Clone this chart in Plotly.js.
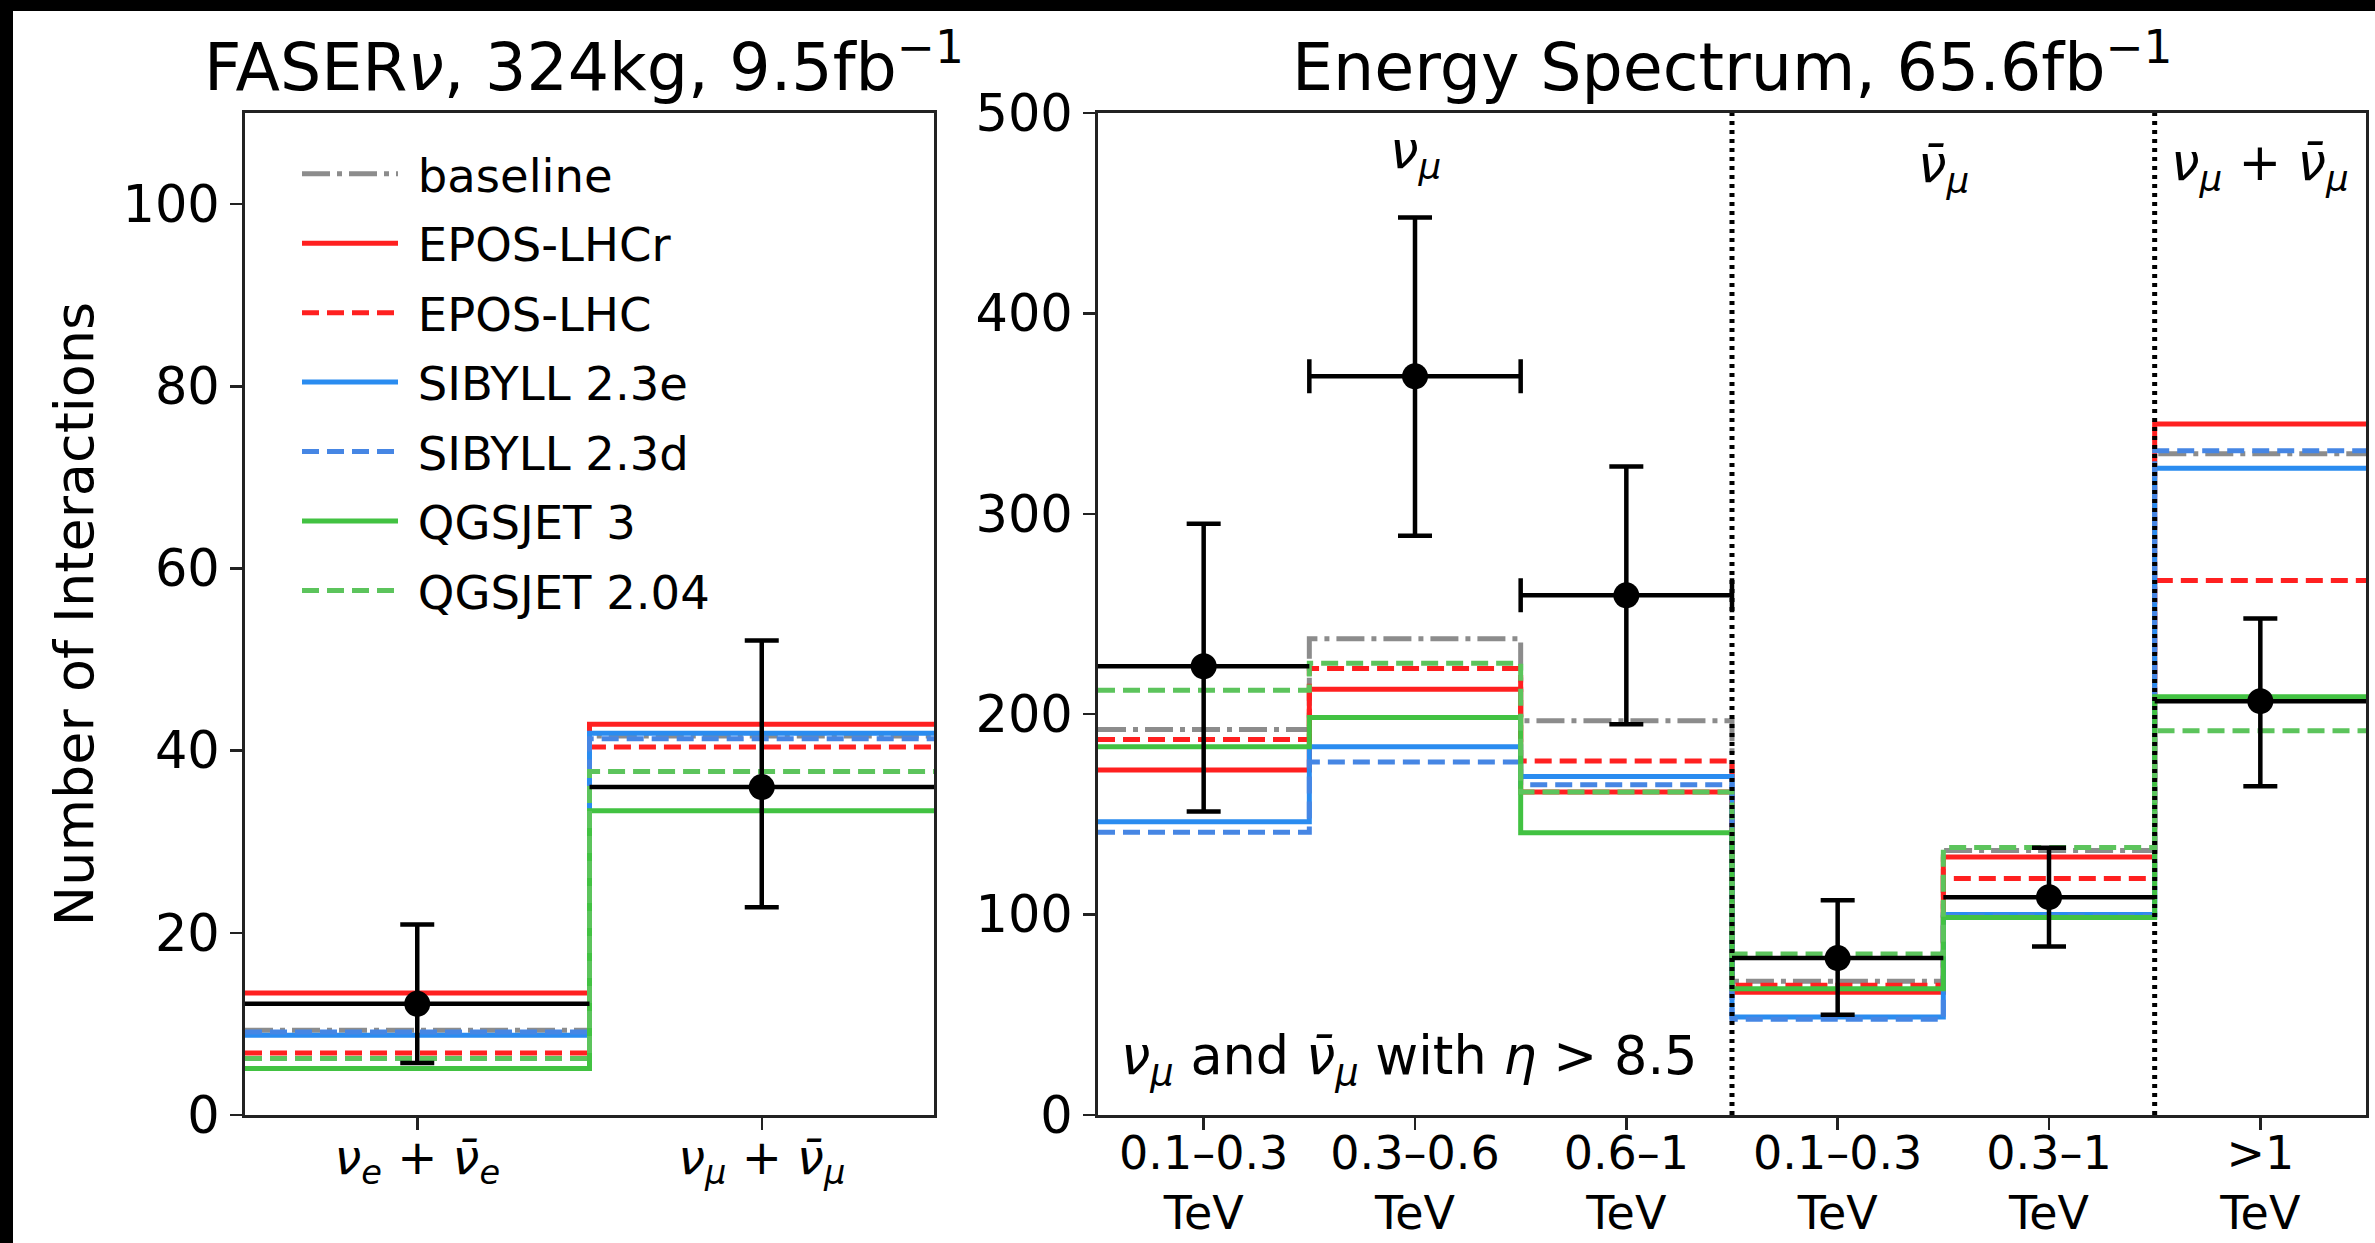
<!DOCTYPE html>
<html><head><meta charset="utf-8">
<script src="https://cdn.plot.ly/plotly-3.0.1.min.js"></script>
<style>html,body{margin:0;padding:0;background:#fff;} #chart{width:2375px;height:1243px;}</style>
</head><body><div id="chart"></div>
<script>
// ---------- data ----------
const leftCategories = ['<i>ν<sub>e</sub></i> + <i>ν̄<sub>e</sub></i>', '<i>ν<sub>μ</sub></i> + <i>ν̄<sub>μ</sub></i>'];
const rightCategories = ['0.1–0.3<br>TeV', '0.3–0.6<br>TeV', '0.6–1<br>TeV', '0.1–0.3<br>TeV', '0.3–1<br>TeV', '>1<br>TeV'];
const rightGroupLabels = ['<i>ν<sub>μ</sub></i>', '<i>ν̄<sub>μ</sub></i>', '<i>ν<sub>μ</sub></i> + <i>ν̄<sub>μ</sub></i>'];
const rightGroupDividers = [2.5, 4.5];

const modelNames = ['baseline', 'EPOS-LHCr', 'EPOS-LHC', 'SIBYLL 2.3e', 'SIBYLL 2.3d', 'QGSJET 3', 'QGSJET 2.04'];

// left panel (FASERnu, 324kg, 9.5 fb^-1)
const leftBaseline   = [9.3, 41.6];
const leftEposLHCr   = [13.4, 42.9];
const leftEposLHC    = [6.8, 40.4];
const leftSibyll23e  = [8.75, 41.9];
const leftSibyll23d  = [9.1, 41.3];
const leftQgsjet3    = [5.1, 33.4];
const leftQgsjet204  = [6.2, 37.7];
const leftData       = [12.2, 36.0];
const leftErrUp      = [8.7, 16.1];
const leftErrDown    = [6.5, 13.2];

// right panel (energy spectrum, 65.6 fb^-1)
const rightBaseline  = [192.4, 237.6, 196.7, 66.7, 132.0, 330.0];
const rightEposLHCr  = [172.2, 212.4, 161.2, 61.3, 128.7, 344.8];
const rightEposLHC   = [187.4, 222.8, 176.7, 64.8, 118.0, 266.7];
const rightSibyll23e = [146.3, 183.7, 168.9, 48.9, 100.0, 322.7];
const rightSibyll23d = [141.1, 176.1, 164.8, 47.8, 99.3, 331.5];
const rightQgsjet3   = [183.7, 198.3, 140.9, 63.0, 98.5, 208.7];
const rightQgsjet204 = [212.0, 225.4, 161.2, 80.4, 133.5, 191.7];
const rightData      = [223.9, 368.6, 259.3, 78.3, 108.7, 206.5];
const rightErrUp     = [71.1, 79.3, 64.3, 28.9, 24.6, 41.3];
const rightErrDown   = [72.4, 79.6, 64.3, 28.3, 24.6, 42.4];
const rightBinsWithXCaps = [1, 2];

// ---------- styles ----------
const FONT = 'DejaVu Sans';
const LW = 5;
const DASH = '17px,8px';
const DASHDOT = '28px,7px,5px,7px';
const modelStyles = [
  {color: '#8c8c8c', dash: DASHDOT},
  {color: '#ff2020', dash: 'solid'},
  {color: '#ff2020', dash: DASH},
  {color: '#2a8cf0', dash: 'solid'},
  {color: '#4686e4', dash: DASH},
  {color: '#42c242', dash: 'solid'},
  {color: '#5cc45c', dash: DASH}
];
const leftModels = [leftBaseline, leftEposLHCr, leftEposLHC, leftSibyll23e, leftSibyll23d, leftQgsjet3, leftQgsjet204];
const rightModels = [rightBaseline, rightEposLHCr, rightEposLHC, rightSibyll23e, rightSibyll23d, rightQgsjet3, rightQgsjet204];

function stepTrace(vals, i, xa, ya, legend) {
  const x = [], y = [];
  vals.forEach((v, k) => { x.push(k - 0.5); y.push(v); });
  x.push(vals.length - 0.5); y.push(vals[vals.length - 1]);
  return {
    type: 'scatter', mode: 'lines', x: x, y: y, xaxis: xa, yaxis: ya,
    line: {shape: 'hv', width: LW, color: modelStyles[i].color, dash: modelStyles[i].dash},
    name: '\u00a0' + modelNames[i], legendgroup: modelNames[i], showlegend: legend, hoverinfo: 'skip'
  };
}

const traces = [];
leftModels.forEach((m, i) => traces.push(stepTrace(m, i, 'x', 'y', true)));
rightModels.forEach((m, i) => traces.push(stepTrace(m, i, 'x2', 'y2', false)));

function dataTrace(idx, vals, up, down, xa, ya, cap) {
  return {
    type: 'scatter', mode: 'markers', xaxis: xa, yaxis: ya, showlegend: false, hoverinfo: 'skip',
    x: idx, y: idx.map(k => vals[k]),
    marker: {color: '#000', size: 26},
    error_y: {type: 'data', symmetric: false, array: idx.map(k => up[k]), arrayminus: idx.map(k => down[k]),
              color: '#000', thickness: 4.5, width: 17},
    error_x: {type: 'constant', value: 0.5, color: '#000', thickness: 4.5, width: cap}
  };
}
traces.push(dataTrace([0, 1], leftData, leftErrUp, leftErrDown, 'x', 'y', 0));
const rightNoCap = rightData.map((_, k) => k).filter(k => rightBinsWithXCaps.indexOf(k) < 0);
traces.push(dataTrace(rightNoCap, rightData, rightErrUp, rightErrDown, 'x2', 'y2', 0));
traces.push(dataTrace(rightBinsWithXCaps, rightData, rightErrUp, rightErrDown, 'x2', 'y2', 17));

// ---------- layout ----------
const W = 2375, H = 1243;
const yDom = [1 - 1115 / H, 1 - 113 / H];
const axCommon = {
  showline: true, mirror: true, linecolor: '#222', linewidth: 3,
  ticks: 'outside', ticklen: 12, tickwidth: 2.5, tickcolor: '#222',
  showgrid: false, zeroline: false, fixedrange: true, automargin: false
};
const shapes = rightGroupDividers.map(d => ({
  type: 'line', xref: 'x2', yref: 'paper', x0: d, x1: d, y0: yDom[0], y1: yDom[1],
  line: {color: '#000', width: 5, dash: '4px,5px'}, layer: 'above'
}));
// black frame strips of the original picture
shapes.push({type: 'rect', xref: 'paper', yref: 'paper', x0: 0, x1: 13 / W, y0: 0, y1: 1, fillcolor: '#000', line: {width: 0}, layer: 'below'});
shapes.push({type: 'rect', xref: 'paper', yref: 'paper', x0: 0, x1: 1, y0: 1 - 11 / H, y1: 1, fillcolor: '#000', line: {width: 0}, layer: 'below'});

const groupCenters = [1, 3.5, 5];
const groupTops = [1 - 119 / H, 1 - 133 / H, 1 - 131 / H];
const annotations = rightGroupLabels.map((t, k) => ({
  text: t, xref: 'x2', yref: 'paper', x: groupCenters[k], y: groupTops[k],
  xanchor: 'center', yanchor: 'top', showarrow: false, font: {family: FONT, size: 51, color: '#000'}
}));
annotations.push({
  text: '<i>ν<sub>μ</sub></i> and <i>ν̄<sub>μ</sub></i> with <i>η</i> > 8.5',
  xref: 'paper', yref: 'paper', x: 1119 / W, y: 1 - 1023 / H, xanchor: 'left', yanchor: 'top',
  showarrow: false, font: {family: FONT, size: 52.5, color: '#000'}
});
annotations.push({
  text: 'FASER<i>ν</i>, 324kg, 9.5fb<sup>−1</sup>', xref: 'paper', yref: 'paper',
  x: 584 / W, y: 1 - 107 / H, xanchor: 'center', yanchor: 'bottom', showarrow: false,
  font: {family: FONT, size: 65, color: '#000'}
});
annotations.push({
  text: 'Energy Spectrum, 65.6fb<sup>−1</sup>', xref: 'paper', yref: 'paper',
  x: 1732 / W, y: 1 - 107 / H, xanchor: 'center', yanchor: 'bottom', showarrow: false,
  font: {family: FONT, size: 65, color: '#000'}
});

const layout = {
  width: W, height: H, margin: {l: 0, r: 0, t: 0, b: 0},
  paper_bgcolor: '#fff', plot_bgcolor: '#fff',
  font: {family: FONT, color: '#000'},
  xaxis: Object.assign({}, axCommon, {domain: [245 / W, 934 / W], range: [-0.5, 1.5], anchor: 'y',
    tickvals: [0, 1], ticktext: leftCategories, tickfont: {family: FONT, size: 48}, ticklabelstandoff: -14}),
  yaxis: Object.assign({}, axCommon, {domain: yDom, range: [0, 110], anchor: 'x',
    tickvals: [0, 20, 40, 60, 80, 100], tickfont: {family: FONT, size: 51},
    title: {text: 'Number of Interactions', font: {family: FONT, size: 54}, standoff: 12}}),
  xaxis2: Object.assign({}, axCommon, {domain: [1098 / W, 2366 / W], range: [-0.5, 5.5], anchor: 'y2',
    tickvals: rightCategories.map((_, k) => k), ticktext: rightCategories, tickfont: {family: FONT, size: 46},
    ticklabelstandoff: -16}),
  yaxis2: Object.assign({}, axCommon, {domain: yDom, range: [0, 500], anchor: 'x2',
    tickvals: [0, 100, 200, 300, 400, 500], tickfont: {family: FONT, size: 51}}),
  showlegend: true,
  legend: {x: 297 / W, y: 1 - 137 / H, xanchor: 'left', yanchor: 'top', bgcolor: 'rgba(0,0,0,0)',
    borderwidth: 0, font: {family: FONT, size: 46.5, color: '#000'}, traceorder: 'grouped',
    tracegroupgap: 6, itemwidth: 96},
  shapes: shapes, annotations: annotations
};

Plotly.newPlot('chart', traces, layout, {staticPlot: true, displayModeBar: false});
</script></body></html>
